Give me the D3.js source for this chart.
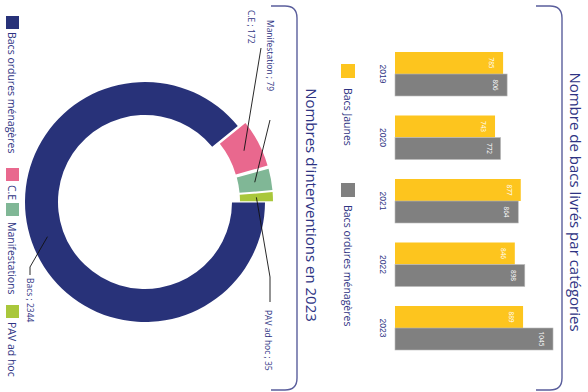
<!DOCTYPE html>
<html>
<head>
<meta charset="utf-8">
<script src="https://cdn.jsdelivr.net/npm/d3@7"></script>
<style>
  body { margin: 0; background: #fff; }
  svg { display: block; font-family: 'Open Sans', 'Noto Sans', sans-serif; }
</style>
</head>
<body>
<svg></svg>
<script>
const years = ['2019', '2020', '2021', '2022', '2023'];
const seriesNames = ['Bacs Jaunes', 'Bacs ordures ménagères'];
const bacsJaunes = [785, 743, 877, 846, 889];
const bacsOM = [806, 772, 864, 898, 1045];

const donutLabels = ['Bacs ordures ménagères', 'C.E', 'Manifestations', 'PAV ad hoc'];
const donutNames = ['Bacs', 'C.E', 'Manifestation', 'PAV ad hoc'];
const donutValues = [2344, 172, 79, 35];

const width = 588;
const height = 392;
const navy = '#2e3383';
const barColors = ['#fdc51e', '#808080'];
const donutColors = ['#283279', '#e9688e', '#80b796', '#a9c73b'];

const svg = d3.select('svg').attr('width', width).attr('height', height);

// the whole page is drawn upright, then turned a quarter turn
const page = svg.append('g').attr('transform', 'translate(' + width + ',0) rotate(90)');

// panel frames
const frame = (top, drop) =>
  'M6,' + (top + drop) + ' V' + (top + 12) + ' Q6,' + top + ' 18,' + top +
  ' H378 Q390,' + top + ' 390,' + (top + 12) + ' V' + (top + drop);
page.append('path').attr('d', frame(26, 26))
  .attr('fill', 'none').attr('stroke', '#5a5e9c').attr('stroke-width', 1.4);
page.append('path').attr('d', frame(291, 26))
  .attr('fill', 'none').attr('stroke', '#5a5e9c').attr('stroke-width', 1.4);

// titles
page.append('text').attr('x', 202).attr('y', 18).attr('text-anchor', 'middle')
  .attr('fill', navy).style('font-size', '15px')
  .text('Nombre de bacs livrés par catégories');
page.append('text').attr('x', 205).attr('y', 282).attr('text-anchor', 'middle')
  .attr('fill', navy).style('font-size', '15px')
  .text("Nombres d'interventions en 2023");

// bar chart
const x0 = d3.scaleBand().domain(years).range([32.5, 369.5]).paddingInner(0.307).paddingOuter(0.307);
const x1 = d3.scaleBand().domain(seriesNames).range([0, x0.bandwidth()]);
const y = d3.scaleLinear().domain([222, 1097]).range([193, 25]);

const rows = years.map((yr, i) => ({ year: yr, values: [bacsJaunes[i], bacsOM[i]] }));

const groups = page.append('g').selectAll('g').data(rows).join('g')
  .attr('transform', (d) => 'translate(' + x0(d.year) + ',0)');

groups.selectAll('rect').data((d) => d.values.map((v, j) => ({ v: v, s: seriesNames[j], j: j })))
  .join('rect')
  .attr('x', (d) => x1(d.s))
  .attr('width', x1.bandwidth())
  .attr('y', (d) => y(d.v))
  .attr('height', (d) => y.range()[0] - y(d.v))
  .attr('fill', (d) => barColors[d.j])
  .attr('stroke', (d) => (d.j === 1 ? '#bbbbbb' : 'none'))
  .attr('stroke-width', 0.6);

groups.selectAll('text.val').data((d) => d.values.map((v, j) => ({ v: v, s: seriesNames[j] })))
  .join('text').attr('class', 'val')
  .attr('x', (d) => x1(d.s) + x1.bandwidth() / 2)
  .attr('y', (d) => y(d.v) + 14)
  .attr('text-anchor', 'middle')
  .attr('fill', '#fff').style('font-size', '6.5px')
  .text((d) => d.v);

const xAxis = page.append('g').attr('transform', 'translate(0,' + y.range()[0] + ')')
  .call(d3.axisBottom(x0).tickSize(0).tickPadding(9));
xAxis.select('.domain').remove();
xAxis.selectAll('text').attr('fill', navy).style('font-size', '8.5px');

// bar legend
const barLegend = [{ x: 64, t: 88 }, { x: 183, t: 205 }];
barLegend.forEach((p, i) => {
  page.append('rect').attr('x', p.x).attr('y', 233).attr('width', 14).attr('height', 14)
    .attr('fill', barColors[i]);
  page.append('text').attr('x', p.t).attr('y', 244).attr('fill', navy)
    .style('font-size', '10.5px').text(seriesNames[i]);
});

// donut
const cx = 202, cy = 443, rIn = 87, rOut = 120, boom = 8;
const pie = d3.pie().sort(null).value((d) => d)(donutValues);
const arc = d3.arc().innerRadius(rIn).outerRadius(rOut).padAngle(0.006);
const mid = d3.arc().innerRadius((rIn + rOut) / 2).outerRadius((rIn + rOut) / 2);

const donut = page.append('g').attr('transform', 'translate(' + cx + ',' + cy + ')');
const shift = (d, i) => {
  if (i === 0) return [0, 0];
  const a = (d.startAngle + d.endAngle) / 2;
  return [Math.sin(a) * boom, -Math.cos(a) * boom];
};
donut.selectAll('path').data(pie).join('path')
  .attr('d', arc)
  .attr('transform', (d, i) => 'translate(' + shift(d, i) + ')')
  .attr('fill', (d, i) => donutColors[i]);

// leader lines and labels
const labelPos = [
  { x: 278, y: 561, pts: [[275, 558], [267, 558]] },
  { x: 10, y: 340, pts: [[48, 327]] },
  { x: 20, y: 321, pts: [[120, 318]] },
  { x: 310, y: 323, pts: [[302, 318], [277, 318]] }
];
pie.forEach((d, i) => {
  const c = mid.centroid(d);
  const s = shift(d, i);
  const start = [cx + c[0] + s[0], cy + c[1] + s[1]];
  const pts = labelPos[i].pts.concat([start]);
  page.append('path').attr('d', d3.line()(pts))
    .attr('fill', 'none').attr('stroke', '#111').attr('stroke-width', 0.9);
  page.append('text').attr('x', labelPos[i].x).attr('y', labelPos[i].y)
    .attr('fill', navy).style('font-size', '8.5px')
    .text(donutNames[i] + ' ; ' + donutValues[i]);
});

// donut legend
const donutLegend = [{ x: 16, t: 32 }, { x: 168, t: 185 }, { x: 203, t: 222 }, { x: 305, t: 322 }];
donutLegend.forEach((p, i) => {
  page.append('rect').attr('x', p.x).attr('y', 569).attr('width', 13).attr('height', 13)
    .attr('fill', donutColors[i]);
  page.append('text').attr('x', p.t).attr('y', 580).attr('fill', navy)
    .style('font-size', '10.5px').text(donutLabels[i]);
});
</script>
</body>
</html>
